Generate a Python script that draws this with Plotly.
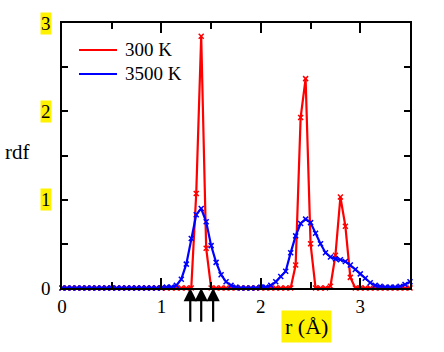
import plotly.graph_objects as go

# sample grid (r in Angstrom), step 0.05 from 0 to 3.5
r = [round(0.05 * i, 2) for i in range(71)]

rdf_300K = [0.0] * 26 + [0.0, 1.07, 2.85, 0.45, 0.0] + [0.0] * 16 + \
    [0.26, 1.93, 2.37, 0.50, 0.0, 0.0, 0.0, 0.02, 0.37, 1.03, 0.70, 0.12] + [0.0] * 12

rdf_3500K = [0.0] * 21 + [0.01, 0.01, 0.03, 0.10, 0.27, 0.56, 0.83, 0.90, 0.75, 0.48,
                          0.29, 0.15, 0.07, 0.03, 0.01, 0.0, 0.0, 0.0, 0.0, 0.01,
                          0.01, 0.03, 0.07, 0.13, 0.19, 0.40, 0.59, 0.73, 0.78, 0.74,
                          0.62, 0.50, 0.40, 0.35, 0.33, 0.32, 0.30, 0.26, 0.21, 0.16,
                          0.11, 0.06, 0.03, 0.02, 0.01, 0.01, 0.01, 0.02, 0.04, 0.07]

series_names = ["300 K", "3500 K"]
series_colors = ["#FF0000", "#0000FF"]

y_tick_vals = [0, 1, 2, 3]
y_tick_text = ["0", "1", "2", "3"]
y_tick_highlight = [False, True, True, True]
x_tick_vals = [0, 1, 2, 3]
x_tick_text = ["0", "1", "2", "3"]

arrow_positions = [1.29, 1.40, 1.52]

FONT = "Liberation Serif, Times New Roman, serif"
HL = "#FFF200"

W, H = 444, 352
ML, MR, MT, MB = 62, 34, 23, 64
pw, ph = W - ML - MR, H - MT - MB


def px_x(p):
    return (p - ML) / pw


def px_y(p):
    return (H - MB - p) / ph


fig = go.Figure()
for ys, name, col in zip([rdf_300K, rdf_3500K], series_names, series_colors):
    fig.add_trace(go.Scatter(
        x=r, y=ys, mode="lines+markers", name=name, showlegend=False,
        line=dict(color=col, width=2.2),
        marker=dict(symbol="x-thin", size=5, color=col, line=dict(color=col, width=1.5)),
        cliponaxis=False,
    ))

axis_common = dict(
    showline=True, linecolor="black", linewidth=2, mirror="ticks",
    ticks="inside", ticklen=10, tickwidth=1.5, tickcolor="black",
    showgrid=False, zeroline=False,
    minor=dict(ticks="inside", ticklen=6, tickwidth=1.5, tickcolor="black", dtick=0.5),
)

fig.update_xaxes(range=[0, 3.5], tickvals=x_tick_vals, ticktext=x_tick_text,
                 tickfont=dict(family=FONT, size=19, color="black"), **axis_common)
fig.update_yaxes(range=[0, 3], tickvals=y_tick_vals, ticktext=[""] * 4,
                 showticklabels=False, **axis_common)

annotations = []
shapes = []
for v, t, h in zip(y_tick_vals, y_tick_text, y_tick_highlight):
    annotations.append(dict(
        x=0, xref="paper", y=v, yref="y", text=t, showarrow=False,
        xanchor="right", yanchor="middle", xshift=-10,
        font=dict(family=FONT, size=19, color="black"),
        bgcolor=HL if h else "rgba(0,0,0,0)", borderpad=0,
    ))
for xa in arrow_positions:
    annotations.append(dict(
        x=xa, y=0, xref="x", yref="y", ax=xa, ay=-0.40, axref="x", ayref="y",
        text="", showarrow=True, arrowhead=2, arrowsize=1.2, arrowwidth=2.2,
        arrowcolor="black",
    ))
# axis titles
annotations.append(dict(
    x=px_x(306), y=px_y(326), xref="paper", yref="paper", text="r (Å)", showarrow=False,
    font=dict(family=FONT, size=22, color="black"), bgcolor=HL, borderpad=3,
    xanchor="center", yanchor="middle",
))
annotations.append(dict(
    x=px_x(18), y=px_y(152), xref="paper", yref="paper", text="rdf", showarrow=False,
    font=dict(family=FONT, size=21, color="black"),
    xanchor="center", yanchor="middle",
))
# legend drawn as line samples + labels
legend_rows = [50, 74]
for name, col, ry in zip(series_names, series_colors, legend_rows):
    shapes.append(dict(type="line", xref="paper", yref="paper",
                       x0=px_x(79), x1=px_x(117), y0=px_y(ry), y1=px_y(ry),
                       line=dict(color=col, width=2.2)))
    annotations.append(dict(
        x=px_x(123), y=px_y(ry), xref="paper", yref="paper", text=name, showarrow=False,
        font=dict(family=FONT, size=19, color="black"),
        xanchor="left", yanchor="middle",
    ))

fig.update_layout(
    width=W, height=H,
    margin=dict(l=ML, r=MR, t=MT, b=MB, pad=0),
    paper_bgcolor="white", plot_bgcolor="white",
    font=dict(family=FONT, size=19, color="black"),
    showlegend=False,
    annotations=annotations,
    shapes=shapes,
)

fig.write_html("out.html")
